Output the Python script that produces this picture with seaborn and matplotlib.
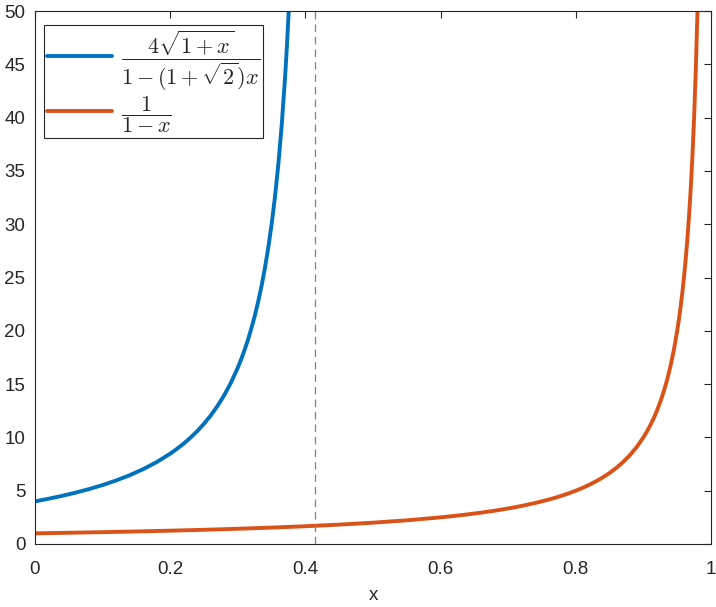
import numpy as np
import pandas as pd
import matplotlib
matplotlib.use("Agg")
import matplotlib.pyplot as plt
import seaborn as sns

# Du lieu doc tu hinh
x_blue = [0.0, 0.02, 0.04, 0.06, 0.08, 0.10, 0.12, 0.14, 0.16, 0.18, 0.20, 0.21,
          0.22, 0.23, 0.24, 0.25, 0.26, 0.27, 0.28, 0.29, 0.30, 0.305, 0.31,
          0.315, 0.32, 0.325, 0.33, 0.335, 0.34, 0.345, 0.35, 0.355, 0.36,
          0.365, 0.37, 0.3725, 0.3755]
y_blue = [4.0, 4.245, 4.515, 4.816, 5.152, 5.530, 5.960, 6.451, 7.020, 7.685,
          8.473, 8.925, 9.423, 9.975, 10.59, 11.28, 12.06, 12.95, 13.97, 15.15,
          16.54, 17.33, 18.20, 19.15, 20.21, 21.38, 22.69, 24.17, 25.84, 27.76,
          29.98, 32.57, 35.64, 39.33, 43.86, 46.53, 50.19]

x_orange = [0.0, 0.05, 0.10, 0.15, 0.20, 0.25, 0.30, 0.35, 0.40, 0.45, 0.50, 0.55,
            0.60, 0.62, 0.64, 0.66, 0.68, 0.70, 0.72, 0.74, 0.76, 0.77, 0.78,
            0.79, 0.80, 0.81, 0.82, 0.83, 0.84, 0.85, 0.86, 0.87, 0.88, 0.89,
            0.90, 0.905, 0.91, 0.915, 0.92, 0.925, 0.93, 0.935, 0.94, 0.945,
            0.95, 0.9525, 0.955, 0.9575, 0.96, 0.9625, 0.965, 0.9675, 0.97,
            0.9725, 0.975, 0.9775, 0.98]
y_orange = [1.0, 1.053, 1.111, 1.176, 1.25, 1.333, 1.429, 1.538, 1.667, 1.818,
            2.0, 2.222, 2.5, 2.632, 2.778, 2.941, 3.125, 3.333, 3.571, 3.846,
            4.167, 4.348, 4.545, 4.762, 5.0, 5.263, 5.556, 5.882, 6.25, 6.667,
            7.143, 7.692, 8.333, 9.091, 10.0, 10.53, 11.11, 11.76, 12.5, 13.33,
            14.29, 15.38, 16.67, 18.18, 20.0, 21.05, 22.22, 23.53, 25.0, 26.67,
            28.57, 30.77, 33.33, 36.36, 40.0, 44.44, 50.0]

x_pole = 0.4142

labels = [r'$\dfrac{4\sqrt{1+x}}{1-(1+\sqrt{2})x}$',
          r'$\dfrac{1}{1-x}$']
colors = ['#0072BD', '#D95319']

df = pd.concat([
    pd.DataFrame({'x': x_blue, 'y': y_blue, 'f': labels[0]}),
    pd.DataFrame({'x': x_orange, 'y': y_orange, 'f': labels[1]}),
])

sns.set_style("white")
plt.rcParams['font.family'] = ['Liberation Sans', 'DejaVu Sans']
plt.rcParams['mathtext.fontset'] = 'cm'

fig = plt.figure(figsize=(7.16, 6.07), dpi=100)
ax = fig.add_axes([35 / 716, 1 - 544 / 607, 676 / 716, 533 / 607])

sns.lineplot(data=df, x='x', y='y', hue='f', palette=colors, sort=False,
             linewidth=2.8, ax=ax)
ax.axvline(x_pole, color='#808080', linestyle=(0, (6, 4)), linewidth=0.9)

ax.set_xlim(0, 1)
ax.set_ylim(0, 50)
ax.set_xticks([0, 0.2, 0.4, 0.6, 0.8, 1])
ax.set_xticklabels(['0', '0.2', '0.4', '0.6', '0.8', '1'])
ax.set_yticks(range(0, 51, 5))
ax.set_xlabel('x', fontsize=13.5, color='#262626', labelpad=7)
ax.set_ylabel('')
ax.tick_params(direction='in', top=True, right=True, length=5, width=0.8,
               labelsize=13.5, colors='#262626')
ax.tick_params(axis='x', pad=12)
ax.tick_params(axis='y', pad=7)
for s in ax.spines.values():
    s.set_color('#262626')
    s.set_linewidth(0.8)

leg = ax.legend(loc='upper left', bbox_to_anchor=(0.0133, 0.974),
                fontsize=16, frameon=True, fancybox=False,
                edgecolor='#262626', framealpha=1, handlelength=2.9,
                handletextpad=0.4, borderaxespad=0, labelspacing=0.05,
                borderpad=0.15)
leg.get_frame().set_linewidth(0.8)

plt.savefig('out.png', dpi=100)
